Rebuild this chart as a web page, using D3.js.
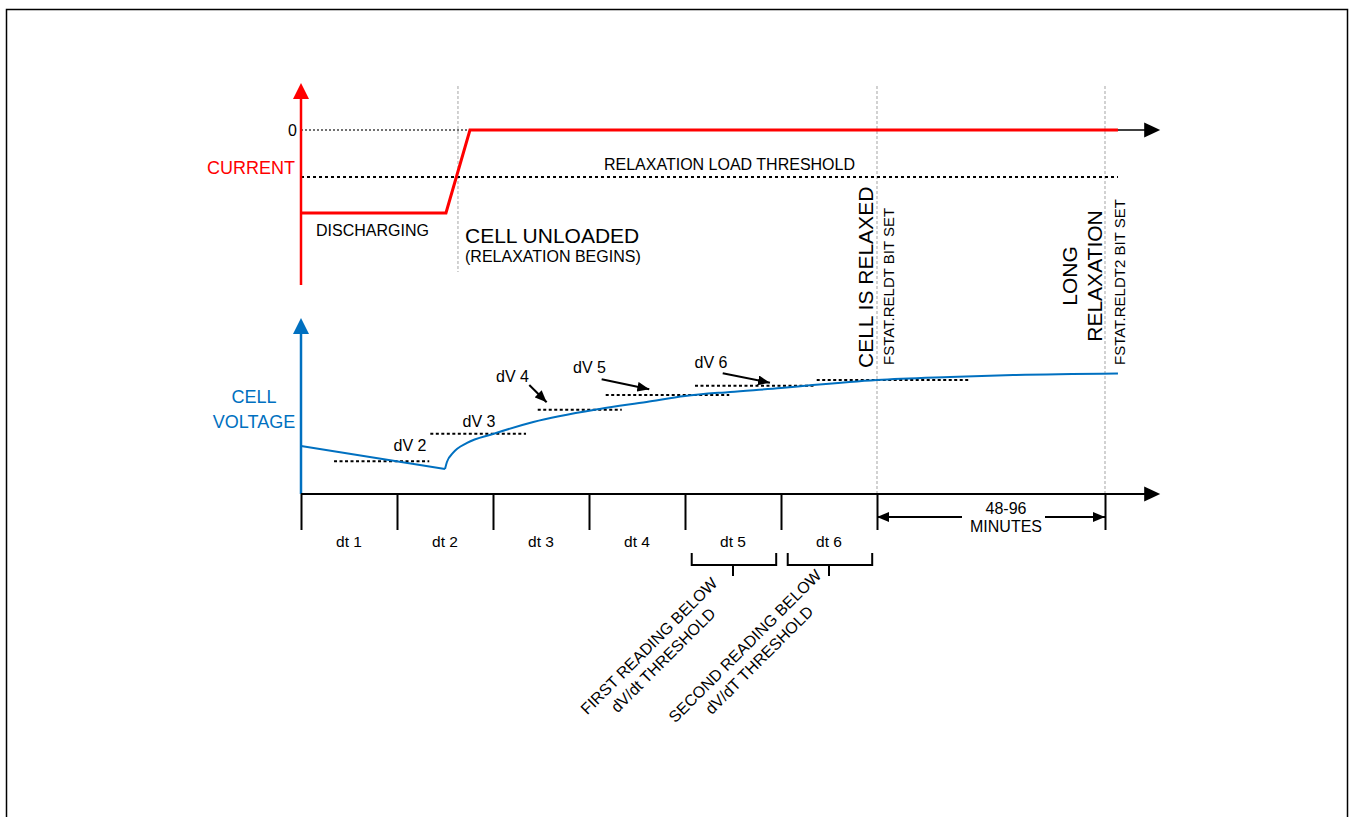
<!DOCTYPE html>
<html>
<head>
<meta charset="utf-8">
<script src="https://cdn.jsdelivr.net/npm/d3@7"></script>
<style>
  body { margin: 0; background: #fff; }
  svg text { font-family: "Liberation Sans", Arial, sans-serif; }
</style>
</head>
<body>
<div id="chart"></div>
<script>
// time in units of one dt interval
const intervalLabels = ["dt 1", "dt 2", "dt 3", "dt 4", "dt 5", "dt 6"];
const intervalTicks = [0, 1, 2, 3, 4, 5, 6];

// current trace (discharge level = -1, zero = 0)
const currentT = [0, 1.51, 1.76, 8.51];
const currentI = [-1, -1, 0, 0];
const loadThreshold = -0.566;

// cell voltage (arbitrary units, axis = 0)
const dischargeT = [0, 1.5];
const dischargeV = [27.3, 14.2];
const relaxT = [1.5, 1.52, 1.583, 1.73, 2.0, 2.42, 3.11, 3.6, 4.0, 4.47, 5.0, 5.33, 6.0, 6.76, 7.42, 8.51];
const relaxV = [14.2, 18.2, 23.3, 29.0, 34.1, 40.9, 48.3, 52.3, 55.7, 58.0, 60.2, 61.9, 64.8, 66.5, 67.6, 68.5];

// dV readings (dotted levels)
const dvStart = [0.344, 1.347, 2.466, 3.174, 4.104, 5.372];
const dvEnd = [1.336, 2.344, 3.341, 4.461, 5.344, 6.969];
const dvLevel = [18.6, 34.3, 47.9, 56.25, 61.5, 64.8];
const dvNames = ["dV 2", "dV 3", "dV 4", "dV 5", "dV 6"];
const dvLabelT = [1.135, 1.854, 2.203, 3.005, 4.271];
const dvLabelV = [24.4, 38.1, 63.8, 68.8, 71.6];
// pointer arrows for dV 4..6
const arrowT0 = [2.378, 3.132, 4.393];
const arrowV0 = [61.9, 65.2, 68.6];
const arrowT1 = [2.559, 3.628, 4.885];
const arrowV1 = [52.1, 59.5, 63.2];

// events
const unloadT = 1.635;
const relaxedT = 6;
const longRelaxT = 8.375;
const axisEndT = 8.95;

const width = 1351, height = 817;
const red = "#ff0000", blue = "#0070c0";

const svg = d3
  .select("#chart")
  .append("svg")
  .attr("width", width)
  .attr("height", height);

// frame
svg
  .append("rect")
  .attr("x", 6.5)
  .attr("y", 9.5)
  .attr("width", 1341)
  .attr("height", 830)
  .attr("fill", "none")
  .attr("stroke", "#000")
  .attr("stroke-width", 1.5);

const defs = svg.append("defs");
defs
  .append("marker")
  .attr("id", "head")
  .attr("markerUnits", "userSpaceOnUse")
  .attr("viewBox", "0 0 12 10")
  .attr("refX", 12)
  .attr("refY", 5)
  .attr("markerWidth", 12)
  .attr("markerHeight", 10)
  .attr("orient", "auto")
  .append("path")
  .attr("d", "M0,0 L12,5 L0,10 Z")
  .attr("fill", "#000");

// scales
const x = d3.scaleLinear().domain([0, 6]).range([301, 877]);
const yI = d3.scaleLinear().domain([-1, 0]).range([213, 130]);
const yV = d3.scaleLinear().domain([0, 100]).range([494, 318]);

const x0 = x(0);
const axisEnd = x(axisEndT);

function triangle(tipX, tipY, dir, len, half) {
  // dir: "right" or "up"
  if (dir === "right")
    return `M${tipX},${tipY} L${tipX - len},${tipY - half} L${tipX - len},${tipY + half} Z`;
  return `M${tipX},${tipY} L${tipX - half},${tipY + len} L${tipX + half},${tipY + len} Z`;
}

// gray event lines
const events = [
  { t: unloadT, y1: 86, y2: 272 },
  { t: relaxedT, y1: 86, y2: yV(0) },
  { t: longRelaxT, y1: 86, y2: yV(0) },
];
svg
  .selectAll(".event")
  .data(events)
  .join("line")
  .attr("x1", (d) => x(d.t))
  .attr("x2", (d) => x(d.t))
  .attr("y1", (d) => d.y1)
  .attr("y2", (d) => d.y2)
  .attr("stroke", "#b4b4b4")
  .attr("stroke-width", 1.2)
  .attr("stroke-dasharray", "3,2");

// ---------- current panel ----------
svg
  .append("line")
  .attr("x1", x0)
  .attr("x2", x(currentT[2]))
  .attr("y1", yI(0))
  .attr("y2", yI(0))
  .attr("stroke", "#444")
  .attr("stroke-width", 1.5)
  .attr("stroke-dasharray", "2,2");
svg
  .append("line")
  .attr("x1", x(currentT[2]))
  .attr("x2", axisEnd - 14)
  .attr("y1", yI(0))
  .attr("y2", yI(0))
  .attr("stroke", "#000")
  .attr("stroke-width", 1.5);
svg
  .append("path")
  .attr("d", triangle(axisEnd, yI(0), "right", 16, 7.5))
  .attr("fill", "#000");

// threshold
svg
  .append("line")
  .attr("x1", x0)
  .attr("x2", x(currentT[3]))
  .attr("y1", yI(loadThreshold))
  .attr("y2", yI(loadThreshold))
  .attr("stroke", "#000")
  .attr("stroke-width", 2)
  .attr("stroke-dasharray", "3,3");

svg
  .append("text")
  .attr("x", 729.5)
  .attr("y", yI(loadThreshold) - 7)
  .attr("text-anchor", "middle")
  .style("font-size", "16px")
  .text("RELAXATION LOAD THRESHOLD");

// current axis
svg
  .append("line")
  .attr("x1", x0)
  .attr("x2", x0)
  .attr("y1", 96)
  .attr("y2", 285)
  .attr("stroke", red)
  .attr("stroke-width", 2.5);
svg
  .append("path")
  .attr("d", triangle(x0, 83, "up", 16, 8))
  .attr("fill", red);

const currentLine = d3
  .line()
  .x((d, i) => x(currentT[i]))
  .y((d) => yI(d));
svg
  .append("path")
  .attr("d", currentLine(currentI))
  .attr("fill", "none")
  .attr("stroke", red)
  .attr("stroke-width", 3);

svg
  .append("text")
  .attr("x", 297)
  .attr("y", yI(0) + 6)
  .attr("text-anchor", "end")
  .style("font-size", "16px")
  .text("0");

svg
  .append("text")
  .attr("x", 295)
  .attr("y", 174)
  .attr("text-anchor", "end")
  .attr("fill", red)
  .style("font-size", "18px")
  .text("CURRENT");

svg
  .append("text")
  .attr("x", 316)
  .attr("y", 236)
  .style("font-size", "16px")
  .text("DISCHARGING");

svg
  .append("text")
  .attr("x", 465)
  .attr("y", 243)
  .style("font-size", "21px")
  .text("CELL UNLOADED");
svg
  .append("text")
  .attr("x", 465)
  .attr("y", 262)
  .style("font-size", "16px")
  .text("(RELAXATION BEGINS)");

// ---------- voltage panel ----------
svg
  .append("line")
  .attr("x1", x0)
  .attr("x2", x0)
  .attr("y1", yV(100) + 14)
  .attr("y2", yV(0))
  .attr("stroke", blue)
  .attr("stroke-width", 2.5);
svg
  .append("path")
  .attr("d", triangle(x0, yV(100), "up", 16, 8))
  .attr("fill", blue);

const cellLabel = svg
  .append("text")
  .attr("text-anchor", "middle")
  .attr("fill", blue)
  .style("font-size", "18px");
cellLabel.append("tspan").attr("x", 254).attr("y", 403).text("CELL");
cellLabel.append("tspan").attr("x", 254).attr("y", 428).text("VOLTAGE");

// dotted dV levels
svg
  .selectAll(".dv")
  .data(dvLevel)
  .join("line")
  .attr("x1", (d, i) => x(dvStart[i]))
  .attr("x2", (d, i) => x(dvEnd[i]))
  .attr("y1", (d) => yV(d))
  .attr("y2", (d) => yV(d))
  .attr("stroke", "#000")
  .attr("stroke-width", 2)
  .attr("stroke-dasharray", "3,2.5");

// voltage: linear sag while discharging, then recovery curve
svg
  .append("path")
  .attr("d", d3.line().x((d, i) => x(dischargeT[i])).y((d) => yV(d))(dischargeV))
  .attr("fill", "none")
  .attr("stroke", blue)
  .attr("stroke-width", 2);
svg
  .append("path")
  .attr(
    "d",
    d3
      .line()
      .curve(d3.curveMonotoneX)
      .x((d, i) => x(relaxT[i]))
      .y((d) => yV(d))(relaxV)
  )
  .attr("fill", "none")
  .attr("stroke", blue)
  .attr("stroke-width", 2);

svg
  .selectAll(".dvLabel")
  .data(dvNames)
  .join("text")
  .attr("x", (d, i) => x(dvLabelT[i]))
  .attr("y", (d, i) => yV(dvLabelV[i]))
  .attr("text-anchor", "middle")
  .style("font-size", "16px")
  .text((d) => d);

svg
  .selectAll(".pointer")
  .data(arrowT0)
  .join("line")
  .attr("x1", (d) => x(d))
  .attr("y1", (d, i) => yV(arrowV0[i]))
  .attr("x2", (d, i) => x(arrowT1[i]))
  .attr("y2", (d, i) => yV(arrowV1[i]))
  .attr("stroke", "#000")
  .attr("stroke-width", 2)
  .attr("marker-end", "url(#head)");

// ---------- time axis ----------
const axisY = yV(0);
svg
  .append("line")
  .attr("x1", x0)
  .attr("x2", axisEnd - 14)
  .attr("y1", axisY)
  .attr("y2", axisY)
  .attr("stroke", "#000")
  .attr("stroke-width", 2);
svg
  .append("path")
  .attr("d", triangle(axisEnd, axisY, "right", 16, 7.5))
  .attr("fill", "#000");

const xAxis = svg
  .append("g")
  .attr("transform", `translate(0,${axisY})`)
  .call(
    d3
      .axisBottom(x)
      .tickValues(intervalTicks.concat([longRelaxT]))
      .tickSize(36)
      .tickSizeOuter(0)
      .tickFormat("")
  );
xAxis.select(".domain").remove();
xAxis.selectAll(".tick line").attr("stroke", "#000").attr("stroke-width", 2);

svg
  .selectAll(".dtLabel")
  .data(intervalLabels)
  .join("text")
  .attr("x", (d, i) => x(i + 0.5))
  .attr("y", 547)
  .attr("text-anchor", "middle")
  .style("font-size", "15.5px")
  .text((d) => d);

// 48-96 minutes span
const spanY = 517;
svg
  .append("line")
  .attr("x1", 962)
  .attr("x2", x(relaxedT))
  .attr("y1", spanY)
  .attr("y2", spanY)
  .attr("stroke", "#000")
  .attr("stroke-width", 2)
  .attr("marker-end", "url(#head)");
svg
  .append("line")
  .attr("x1", 1045)
  .attr("x2", x(longRelaxT))
  .attr("y1", spanY)
  .attr("y2", spanY)
  .attr("stroke", "#000")
  .attr("stroke-width", 2)
  .attr("marker-end", "url(#head)");
const spanLabel = svg
  .append("text")
  .attr("text-anchor", "middle")
  .style("font-size", "16px");
spanLabel.append("tspan").attr("x", 1006).attr("y", 513.5).text("48-96");
spanLabel.append("tspan").attr("x", 1006).attr("y", 532).text("MINUTES");

// brackets under dt 5 and dt 6
const brackets = [
  { t: 4, lines: ["FIRST READING BELOW", "dV/dt THRESHOLD"] },
  { t: 5, lines: ["SECOND READING BELOW", "dV/dT THRESHOLD"] },
];
brackets.forEach((b) => {
  const a = x(b.t + 0.07),
    c = x(b.t + 0.95),
    m = x(b.t + 0.5);
  svg
    .append("path")
    .attr("d", `M${a},553 V565 H${c} V553 M${m},565 V576`)
    .attr("fill", "none")
    .attr("stroke", "#000")
    .attr("stroke-width", 2);
  const label = svg
    .append("text")
    .attr("transform", `translate(${m - 84},${646}) rotate(-45)`)
    .attr("text-anchor", "middle")
    .style("font-size", "16px");
  b.lines.forEach((l, i) => {
    label
      .append("tspan")
      .attr("x", 0)
      .attr("y", 5.5 + i * 20)
      .text(l);
  });
});

// vertical event notes
function vtext(tx, ty, size, anchor, str) {
  svg
    .append("text")
    .attr("transform", `translate(${tx},${ty}) rotate(-90)`)
    .attr("text-anchor", anchor)
    .style("font-size", size)
    .text(str);
}
vtext(x(relaxedT) - 4, 368, "21px", "start", "CELL IS RELAXED");
vtext(x(relaxedT) + 16.5, 365, "15px", "start", "FSTAT.RELDT BIT SET");
vtext(x(longRelaxT) - 28, 276, "21px", "middle", "LONG");
vtext(x(longRelaxT) - 3.5, 276, "21px", "middle", "RELAXATION");
vtext(x(longRelaxT) + 20, 365, "15px", "start", "FSTAT.RELDT2 BIT SET");
</script>
</body>
</html>
